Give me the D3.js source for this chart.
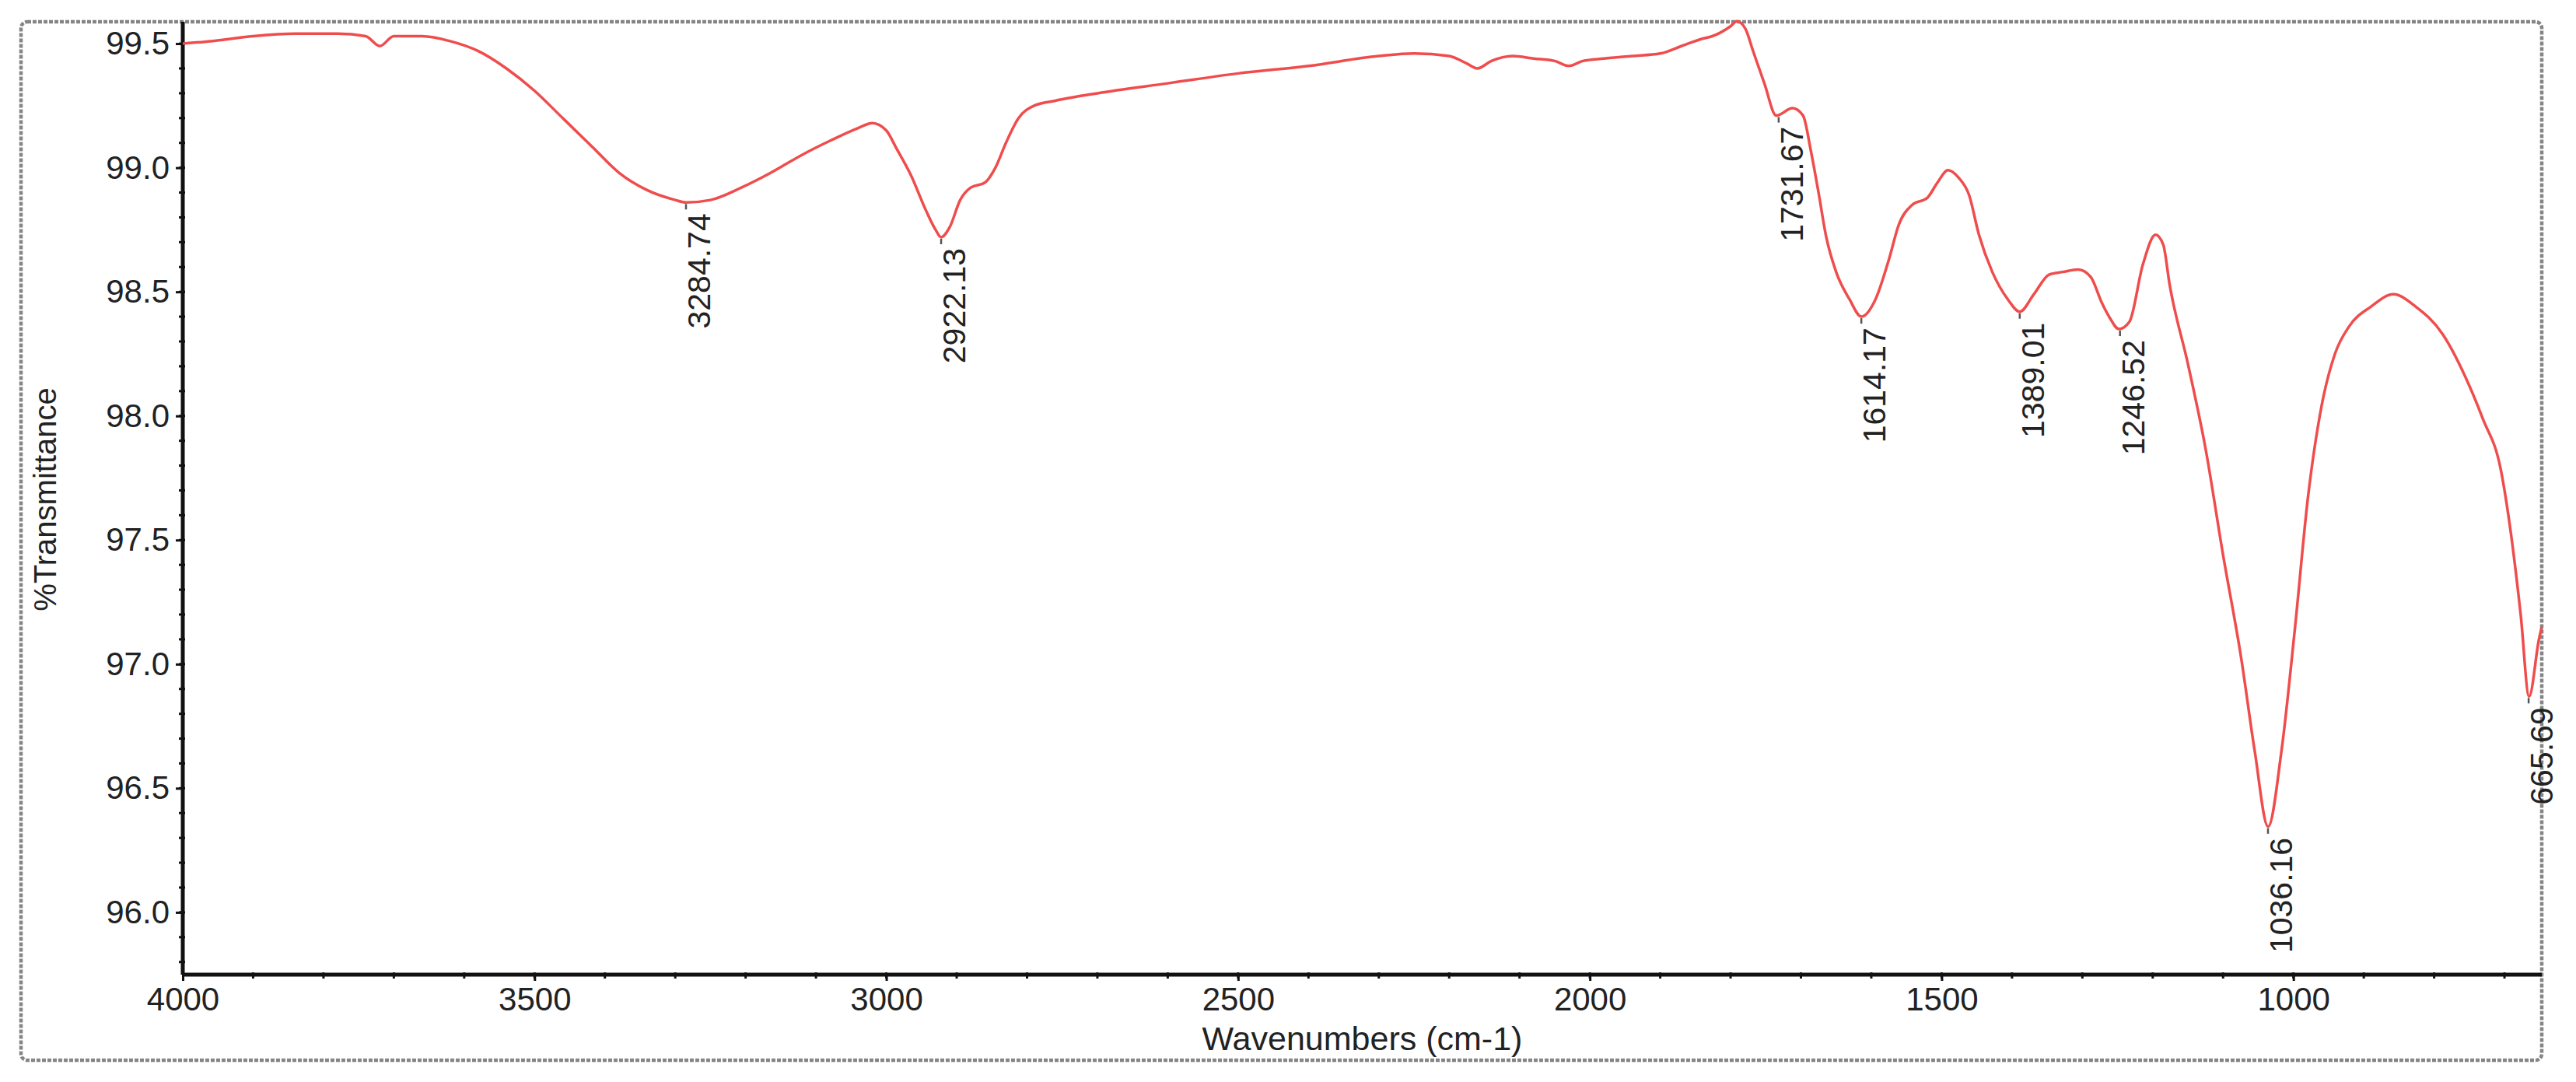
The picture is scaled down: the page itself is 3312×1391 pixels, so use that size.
<!DOCTYPE html>
<html>
<head>
<meta charset="utf-8">
<script src="https://cdn.jsdelivr.net/npm/d3@7"></script>
<style>
  html, body { margin: 0; padding: 0; background: #fff; }
  svg { display: block; }
  text { font-family: "Liberation Sans", Arial, sans-serif; fill: #222; }
</style>
</head>
<body>
<svg id="chart" width="3312" height="1391"></svg>
<script>
// ---- data ----
const wavenumbers = [4000,3960,3900,3840,3780,3740,3720,3700,3660,3620,3580,3540,3500,3460,3420,3380,3340,3300,3284.74,3250,3206,3164,3121,3079,3040,3020,3000,2986,2965,2944,2930,2922,2910,2895,2880,2860,2845,2830,2812,2790,2760,2700,2600,2500,2400,2300,2250,2200,2175,2160,2140,2110,2080,2050,2030,2010,1980,1940,1900,1870,1840,1826,1800,1791,1779,1768,1752,1735,1712,1697,1686,1675,1664,1650,1631,1614,1594,1575,1561,1542,1520,1506,1491,1476,1461,1447,1428,1406,1389,1369,1347,1328,1306,1288,1273,1262,1248,1233,1214,1196,1185,1176,1150,1125,1100,1074,1055,1036,1017,998,979,960,941,921,890,858,826,788,756,731,705,692,677,665,651,647];
const transmittance = [99.50,99.51,99.53,99.54,99.54,99.53,99.49,99.53,99.53,99.51,99.47,99.40,99.31,99.20,99.09,98.98,98.91,98.87,98.86,98.87,98.92,98.98,99.05,99.11,99.16,99.18,99.15,99.08,98.97,98.83,98.75,98.72,98.76,98.87,98.92,98.94,99.00,99.10,99.20,99.25,99.27,99.30,99.34,99.38,99.41,99.45,99.46,99.45,99.42,99.40,99.43,99.45,99.44,99.43,99.41,99.43,99.44,99.45,99.46,99.49,99.52,99.53,99.57,99.59,99.56,99.47,99.34,99.21,99.24,99.21,99.07,98.90,98.72,98.58,98.47,98.40,98.47,98.63,98.77,98.85,98.88,98.94,98.99,98.96,98.89,98.73,98.58,98.47,98.42,98.49,98.57,98.58,98.59,98.56,98.46,98.40,98.35,98.38,98.61,98.73,98.69,98.53,98.21,97.87,97.44,97.02,96.65,96.345,96.65,97.14,97.68,98.04,98.25,98.36,98.44,98.49,98.44,98.33,98.16,97.99,97.78,97.55,97.20,96.87,97.10,97.15];

const peakWavenumbers = [3284.74, 2922.13, 1731.67, 1614.17, 1389.01, 1246.52, 1036.16, 665.69];
const peakTransmittance = [98.86, 98.72, 99.21, 98.40, 98.42, 98.35, 96.345, 96.87];
const peakLabels = ["3284.74", "2922.13", "1731.67", "1614.17", "1389.01", "1246.52", "1036.16", "665.69"];

const xTickValues = [4000, 3500, 3000, 2500, 2000, 1500, 1000];
const yTickValues = [96.0, 96.5, 97.0, 97.5, 98.0, 98.5, 99.0, 99.5];
const xMinorTicks = d3.range(3900, 600, -100);
const yMinorTicks = d3.range(958, 996).map(v => v / 10);

const xTitle = "Wavenumbers (cm-1)";
const yTitle = "%Transmittance";

// ---- layout ----
const plotLeft = 235, plotRight = 3268, plotTop = 28, plotBottom = 1253;

const svg = d3.select("#chart");

// outer frame
svg.append("rect")
  .attr("x", 27).attr("y", 28).attr("width", 3268 - 27).attr("height", 1363 - 28)
  .attr("rx", 8).attr("ry", 8)
  .attr("fill", "none").attr("stroke", "#858585").attr("stroke-width", 4.5)
  .attr("stroke-dasharray", "5 2");

const x = d3.scaleLinear().domain([4000, 647]).range([plotLeft, plotRight]);
const y = d3.scaleLinear().domain([95.749, 99.588]).range([plotBottom, plotTop]);

// minor ticks
svg.append("g").selectAll("line").data(xMinorTicks).join("line")
  .attr("x1", d => x(d)).attr("x2", d => x(d))
  .attr("y1", plotBottom - 3).attr("y2", plotBottom + 5)
  .attr("stroke", "#111").attr("stroke-width", 3);
svg.append("g").selectAll("line").data(yMinorTicks).join("line")
  .attr("x1", plotLeft - 5).attr("x2", plotLeft + 3)
  .attr("y1", d => y(d)).attr("y2", d => y(d))
  .attr("stroke", "#111").attr("stroke-width", 3);

// axes
const xAxis = d3.axisBottom(x).tickValues(xTickValues).tickFormat(d3.format("d"))
  .tickSize(8).tickPadding(8).tickSizeOuter(0);
const yAxis = d3.axisLeft(y).tickValues(yTickValues).tickFormat(d3.format(".1f"))
  .tickSize(9).tickPadding(8).tickSizeOuter(0);

const gx = svg.append("g").attr("transform", `translate(0,${plotBottom})`).call(xAxis);
const gy = svg.append("g").attr("transform", `translate(${plotLeft},0)`).call(yAxis);

[gx, gy].forEach(g => {
  g.select(".domain").attr("stroke", "#111").attr("stroke-width", 5);
  g.selectAll(".tick line").attr("stroke", "#111").attr("stroke-width", 3);
  g.selectAll(".tick text").attr("font-size", 42).attr("fill", "#2a2a2a")
    .attr("font-family", "'Liberation Sans', Arial, sans-serif");
});
// extend domains to frame edges
gx.select(".domain").attr("d", `M0,0H${plotRight - plotLeft}`).attr("transform", `translate(${plotLeft},0)`);
gy.select(".domain").attr("d", `M0,${plotTop}V${plotBottom}`);

// axis titles
svg.append("text")
  .attr("x", (plotLeft + plotRight) / 2).attr("y", 1335)
  .attr("text-anchor", "middle").attr("dominant-baseline", "central")
  .attr("font-size", 43).text(xTitle);

svg.append("text")
  .attr("transform", `translate(58,642) rotate(-90)`)
  .attr("text-anchor", "middle").attr("dominant-baseline", "central")
  .attr("font-size", 40).text(yTitle);

// spectrum
const pts = wavenumbers.map((w, i) => [x(w), y(transmittance[i])]);
const line = d3.line().curve(d3.curveMonotoneX);
svg.append("path")
  .attr("d", line(pts))
  .attr("fill", "none").attr("stroke", "#ef4d4d").attr("stroke-width", 3.5)
  .attr("stroke-linejoin", "round");

// peak markers + labels
const peaks = peakWavenumbers.map((w, i) => ({ w, t: peakTransmittance[i], label: peakLabels[i] }));
svg.append("g").selectAll("line").data(peaks).join("line")
  .attr("x1", d => x(d.w)).attr("x2", d => x(d.w))
  .attr("y1", d => y(d.t) + 2).attr("y2", d => y(d.t) + 9)
  .attr("stroke", "#555").attr("stroke-width", 2.5);

svg.append("g").selectAll("text").data(peaks).join("text")
  .attr("transform", d => `translate(${x(d.w) + 17},${y(d.t) + 14}) rotate(-90)`)
  .attr("text-anchor", "end").attr("dominant-baseline", "central")
  .attr("font-size", 41).attr("fill", "#222")
  .text(d => d.label);
</script>
</body>
</html>
